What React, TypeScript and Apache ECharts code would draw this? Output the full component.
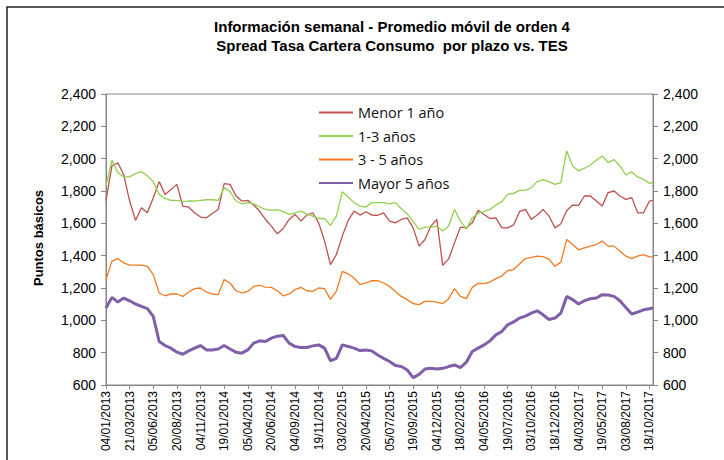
import React, { useEffect, useRef } from "react";
import * as echarts from "echarts";

// Tick labels of the time axis (one every 76 days)
const xLabels = [
  "04/01/2013", "21/03/2013", "05/06/2013", "20/08/2013", "04/11/2013", "19/01/2014",
  "05/04/2014", "20/06/2014", "04/09/2014", "19/11/2014", "03/02/2015", "20/04/2015",
  "05/07/2015", "19/09/2015", "04/12/2015", "18/02/2016", "04/05/2016", "19/07/2016",
  "03/10/2016", "18/12/2016", "04/03/2017", "19/05/2017", "03/08/2017", "18/10/2017",
];

// Samples every quarter of a label interval; the last one closes the series at the axis end
const STEP = 0.25;
const X_MAX = 23.15;

const menor1 = [
  1740, 1955, 1975, 1900, 1738, 1618, 1697, 1665, 1758, 1858, 1779, 1810,
  1841, 1707, 1700, 1665, 1639, 1634, 1661, 1686, 1845, 1841, 1769, 1738,
  1742, 1713, 1676, 1624, 1583, 1535, 1568, 1624, 1655, 1614, 1651, 1665,
  1603, 1490, 1345, 1407, 1521, 1618, 1676, 1651, 1672, 1651, 1650, 1665,
  1614, 1603, 1624, 1634, 1572, 1459, 1500, 1583, 1624, 1340, 1380, 1479,
  1577, 1572, 1603, 1680, 1655, 1630, 1634, 1572, 1572, 1590, 1672, 1686,
  1624, 1651, 1686, 1645, 1572, 1597, 1680, 1713, 1711, 1769, 1769, 1738,
  1707, 1790, 1800, 1769, 1748, 1759, 1665, 1665, 1738, 1742,
];

const de1a3 = [
  1831, 1990, 1914, 1887, 1887, 1908, 1920, 1893, 1858, 1779, 1754, 1742,
  1742, 1734, 1738, 1738, 1742, 1746, 1746, 1742, 1821, 1796, 1738, 1721,
  1728, 1721, 1701, 1686, 1680, 1684, 1672, 1655, 1665, 1676, 1659, 1645,
  1630, 1630, 1587, 1645, 1796, 1763, 1728, 1707, 1701, 1728, 1728, 1728,
  1721, 1728, 1690, 1659, 1610, 1562, 1577, 1577, 1583, 1552, 1583, 1686,
  1614, 1566, 1634, 1661, 1672, 1686, 1713, 1734, 1779, 1785, 1804, 1804,
  1821, 1858, 1870, 1856, 1841, 1852, 2048, 1955, 1924, 1941, 1961, 1990,
  2017, 1976, 1994, 1955, 1899, 1918, 1887, 1872, 1848, 1852,
];

const de3a5 = [
  1252, 1366, 1382, 1355, 1341, 1341, 1341, 1334, 1283, 1169, 1152, 1163,
  1163, 1148, 1175, 1196, 1200, 1175, 1163, 1159, 1252, 1231, 1183, 1169,
  1179, 1210, 1217, 1206, 1204, 1183, 1152, 1163, 1190, 1204, 1183, 1179,
  1200, 1196, 1130, 1180, 1303, 1287, 1262, 1221, 1231, 1245, 1245, 1231,
  1210, 1179, 1148, 1128, 1103, 1097, 1117, 1117, 1113, 1103, 1134, 1196,
  1148, 1134, 1204, 1229, 1227, 1237, 1258, 1274, 1308, 1314, 1349, 1382,
  1390, 1397, 1394, 1378, 1334, 1360, 1500, 1469, 1436, 1448, 1459, 1469,
  1490, 1459, 1459, 1428, 1397, 1382, 1397, 1407, 1392, 1392,
];

const mayor5 = [
  1076, 1142, 1113, 1138, 1121, 1101, 1086, 1072, 1024, 869, 844, 828,
  803, 790, 811, 828, 844, 817, 817, 823, 844, 823, 803, 797,
  817, 859, 873, 869, 890, 902, 906, 859, 838, 832, 832, 842,
  848, 828, 750, 765, 848, 838, 828, 813, 817, 811, 786, 765,
  745, 720, 714, 693, 646, 666, 699, 703, 699, 703, 714, 724,
  708, 741, 807, 828, 848, 873, 910, 931, 972, 990, 1014, 1026,
  1045, 1059, 1034, 1005, 1014, 1045, 1148, 1128, 1101, 1121, 1134, 1138,
  1159, 1157, 1148, 1121, 1080, 1039, 1051, 1065, 1072, 1076,
];

const seriesDefs = [
  { name: "Menor 1 año", values: menor1, color: "#C0504D", width: 1.3 },
  { name: "1-3 años", values: de1a3, color: "#92D050", width: 1.3 },
  { name: "3 - 5 años", values: de3a5, color: "#F47920", width: 1.3 },
  { name: "Mayor 5 años", values: mayor5, color: "#7F5FA8", width: 3 },
];

const AXIS_FONT = "'Liberation Sans', Arial, sans-serif";
const AXIS_GREY = "#868686";

const toPairs = (values: number[]) =>
  values.map((v, i) => [Math.min(i * STEP, X_MAX), v]);

const thousands = (v: number) => v.toLocaleString("en-US");

const yAxisBase = (position: "left" | "right") => ({
  type: "value" as const,
  position,
  min: 600,
  max: 2400,
  interval: 200,
  axisLine: { show: true, lineStyle: { color: AXIS_GREY, width: 1 } },
  axisTick: { show: true, inside: false, length: 5, lineStyle: { color: AXIS_GREY } },
  splitLine: { show: false },
  axisLabel: {
    formatter: thousands,
    fontFamily: AXIS_FONT,
    fontSize: 14,
    color: "#000",
    margin: 10,
  },
});

export default function App() {
  const ref = useRef<HTMLDivElement>(null);

  useEffect(() => {
    if (!ref.current) return;
    const chart = echarts.init(ref.current, undefined, { renderer: "svg" });
    chart.setOption({
      animation: false,
      backgroundColor: "#fff",
      title: {
        text: "Información semanal - Promedio móvil de orden 4\nSpread Tasa Cartera Consumo  por plazo vs. TES",
        left: 387,
        top: 12,
        textAlign: "center",
        textStyle: {
          fontFamily: AXIS_FONT,
          fontSize: 15,
          fontWeight: "bold",
          color: "#000",
          lineHeight: 19,
        },
      },
      legend: {
        orient: "vertical",
        left: 313,
        top: 100,
        itemWidth: 34,
        itemHeight: 14,
        itemGap: 8.5,
        itemStyle: { opacity: 0 },
        textStyle: { fontFamily: "'Open Sans', sans-serif", fontSize: 14.5, color: "#111" },
        data: seriesDefs.map((s) => s.name),
      },
      grid: {
        left: 106,
        right: 71,
        top: 94,
        bottom: 75,
        show: true,
        borderColor: AXIS_GREY,
        borderWidth: 1,
        backgroundColor: "transparent",
      },
      xAxis: {
        type: "value",
        min: 0,
        max: X_MAX,
        interval: 1,
        axisLine: { show: true, lineStyle: { color: AXIS_GREY } },
        axisTick: { show: true, length: 4, lineStyle: { color: AXIS_GREY } },
        splitLine: { show: false },
        axisLabel: {
          rotate: 90,
          margin: 6,
          fontFamily: AXIS_FONT,
          fontSize: 12,
          color: "#000",
          showMaxLabel: false,
          formatter: (v: number) => (Number.isInteger(v) && xLabels[v] ? xLabels[v] : ""),
        },
      },
      yAxis: [yAxisBase("left"), yAxisBase("right")],
      graphic: [
        {
          type: "rect",
          shape: { x: 7, y: 7, width: 760, height: 500 },
          style: { fill: "none", stroke: "#222", lineWidth: 1.5 },
          silent: true,
        },
        {
          type: "text",
          x: 38,
          y: 238,
          rotation: Math.PI / 2,
          style: {
            text: "Puntos básicos",
            fontFamily: AXIS_FONT,
            fontSize: 13,
            fontWeight: "bold",
            fill: "#000",
            align: "center",
            verticalAlign: "middle",
          },
          silent: true,
        },
      ],
      series: seriesDefs.map((s) => ({
        name: s.name,
        type: "line",
        yAxisIndex: 0,
        data: toPairs(s.values),
        symbol: "none",
        showSymbol: false,
        smooth: false,
        color: s.color,
        lineStyle: { color: s.color, width: s.width },
      })),
    });
    return () => chart.dispose();
  }, []);

  return (
    <div
      ref={ref}
      style={{ position: "fixed", left: 0, top: 0, width: 724, height: 460 }}
    />
  );
}
